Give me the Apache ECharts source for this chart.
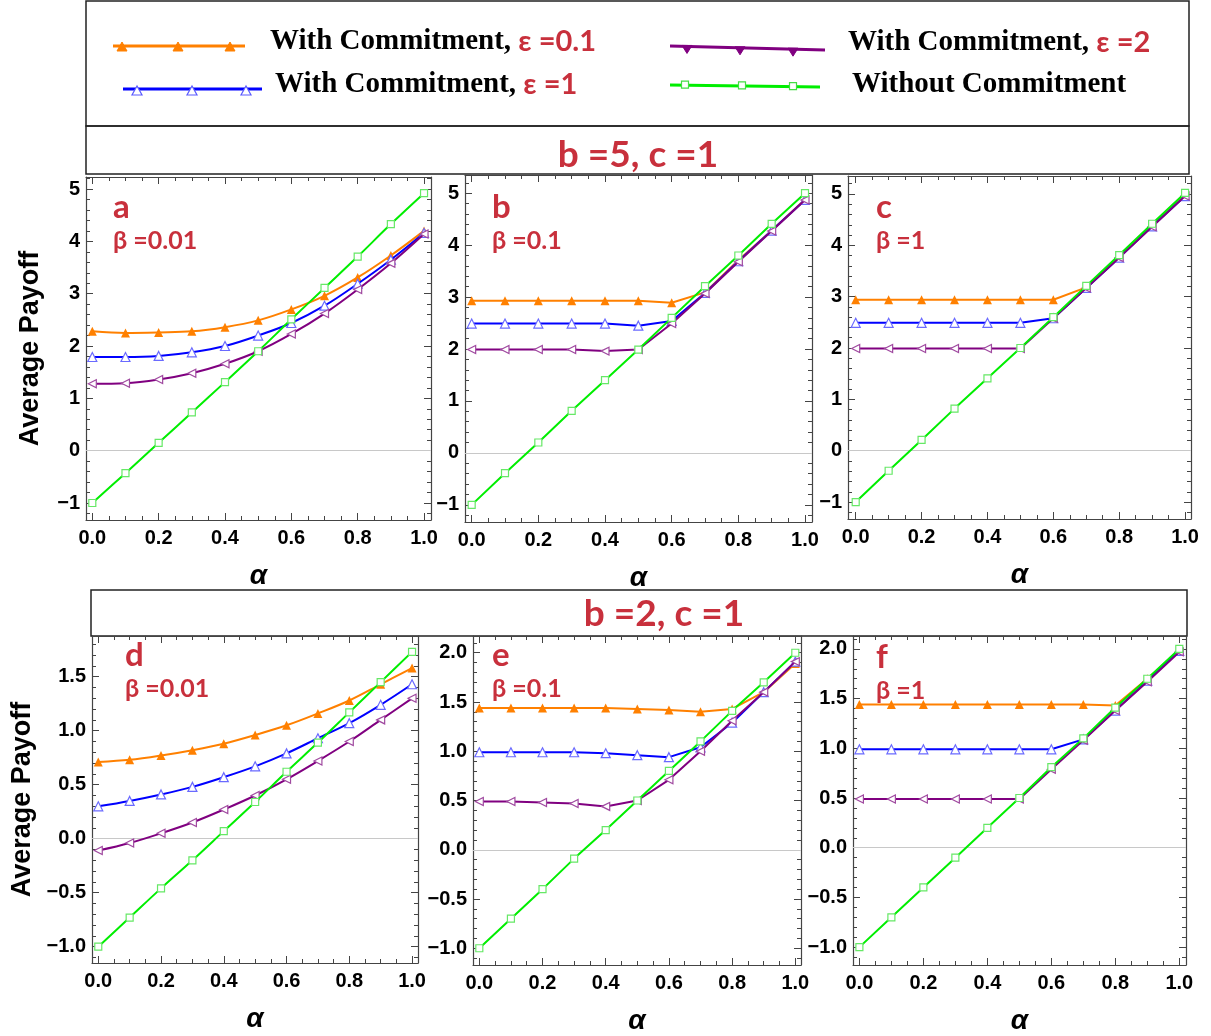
<!DOCTYPE html>
<html><head><meta charset="utf-8">
<script src="https://cdn.jsdelivr.net/npm/echarts@6/dist/echarts.min.js"></script>
<style>html,body{margin:0;padding:0;background:#fff}#c{width:1211px;height:1036px}</style>
</head><body><div id="c"></div>
<script>
// ---------------- data ----------------
const alphaValues = [0, 0.1, 0.2, 0.3, 0.4, 0.5, 0.6, 0.7, 0.8, 0.9, 1.0];

// b = 5, c = 1
const a_eps01 = [2.28, 2.25, 2.26, 2.28, 2.36, 2.49, 2.70, 2.96, 3.31, 3.73, 4.20];
const a_eps1  = [1.79, 1.79, 1.81, 1.88, 2.00, 2.20, 2.44, 2.77, 3.19, 3.65, 4.16];
const a_eps2  = [1.28, 1.29, 1.36, 1.48, 1.66, 1.90, 2.23, 2.62, 3.08, 3.58, 4.14];
const a_none  = [-1.00, -0.43, 0.15, 0.73, 1.31, 1.90, 2.51, 3.11, 3.71, 4.33, 4.92];

const b_eps01 = [2.93, 2.93, 2.93, 2.93, 2.93, 2.93, 2.89, 3.09, 3.71, 4.28, 4.88];
const b_eps1  = [2.49, 2.49, 2.49, 2.49, 2.49, 2.45, 2.54, 3.08, 3.69, 4.28, 4.87];
const b_eps2  = [1.99, 1.99, 1.99, 1.99, 1.96, 1.99, 2.49, 3.07, 3.68, 4.27, 4.87];
const b_none  = [-1.00, -0.39, 0.20, 0.81, 1.40, 1.99, 2.60, 3.21, 3.80, 4.41, 5.00];

const c_eps01 = [2.94, 2.94, 2.94, 2.94, 2.94, 2.94, 2.94, 3.18, 3.77, 4.38, 4.97];
const c_eps1  = [2.49, 2.49, 2.49, 2.49, 2.49, 2.49, 2.58, 3.17, 3.76, 4.37, 4.96];
const c_eps2  = [1.99, 1.99, 1.99, 1.99, 1.99, 1.99, 2.58, 3.17, 3.76, 4.36, 4.96];
const c_none  = [-1.00, -0.39, 0.21, 0.82, 1.41, 2.00, 2.60, 3.21, 3.81, 4.42, 5.02];

// b = 2, c = 1
const d_eps01 = [0.71, 0.73, 0.77, 0.82, 0.88, 0.96, 1.05, 1.16, 1.28, 1.43, 1.58];
const d_eps1  = [0.30, 0.35, 0.41, 0.48, 0.57, 0.67, 0.79, 0.93, 1.07, 1.24, 1.43];
const d_eps2  = [-0.11, -0.04, 0.05, 0.15, 0.27, 0.40, 0.55, 0.72, 0.90, 1.10, 1.30];
const d_none  = [-1.00, -0.73, -0.46, -0.20, 0.07, 0.34, 0.62, 0.89, 1.17, 1.45, 1.73];

const e_eps01 = [1.44, 1.44, 1.44, 1.44, 1.44, 1.43, 1.42, 1.40, 1.43, 1.60, 1.89];
const e_eps1  = [0.99, 0.99, 0.99, 0.99, 0.98, 0.96, 0.94, 1.04, 1.29, 1.60, 1.91];
const e_eps2  = [0.49, 0.49, 0.48, 0.47, 0.44, 0.50, 0.71, 1.00, 1.31, 1.60, 1.91];
const e_none  = [-1.00, -0.70, -0.40, -0.09, 0.20, 0.50, 0.80, 1.10, 1.41, 1.70, 2.00];

const f_eps01 = [1.44, 1.44, 1.44, 1.44, 1.44, 1.44, 1.44, 1.44, 1.43, 1.70, 1.98];
const f_eps1  = [0.99, 0.99, 0.99, 0.99, 0.99, 0.99, 0.99, 1.09, 1.38, 1.68, 1.98];
const f_eps2  = [0.49, 0.49, 0.49, 0.49, 0.49, 0.49, 0.79, 1.08, 1.38, 1.67, 1.97];
const f_none  = [-1.00, -0.70, -0.40, -0.10, 0.20, 0.50, 0.81, 1.10, 1.41, 1.70, 2.00];

// tick labels
const xTickValues = [0, 0.2, 0.4, 0.6, 0.8, 1.0];
const yTicksTop = [-1, 0, 1, 2, 3, 4, 5];
const yTicksD = [-1, -0.5, 0, 0.5, 1, 1.5];
const yTicksEF = [-1, -0.5, 0, 0.5, 1, 1.5, 2];

const seriesNames = ['With Commitment, ε =0.1', 'With Commitment, ε =1', 'With Commitment, ε =2', 'Without Commitment'];
const legendMain = ['With Commitment, ', 'With Commitment, ', 'With Commitment, ', 'Without Commitment'];
const legendEps = ['ε =0.1', 'ε =1', 'ε =2', ''];
const panelLetters = ['a', 'b', 'c', 'd', 'e', 'f'];
const betaLabels = ['β =0.01', 'β =0.1', 'β =1', 'β =0.01', 'β =0.1', 'β =1'];
const headerLabels = ['b =5, c =1', 'b =2, c =1'];
const yAxisTitle = 'Average Payoff';
const xAxisTitle = 'α';

// ---------------- layout / style ----------------
const RED = '#c8303c';
const FRAME = '#444';
const COLORS = ['#ff8000', '#0000ff', '#800080', '#00ee00'];

const panels = [
  {grid: {left: 86, top: 177, width: 345, height: 343}, x: [-0.019, 1.021], y: [-1.325, 5.23], yt: yTicksTop, ystep: 0.2, dec: 0, smooth: 0.35, data: [a_eps01, a_eps1, a_eps2, a_none], yName: true, yGap: 42, lab: [113, 207]},
  {grid: {left: 465, top: 175, width: 347, height: 347}, x: [-0.02, 1.021], y: [-1.33, 5.35], yt: yTicksTop, ystep: 0.2, dec: 0, smooth: false, data: [b_eps01, b_eps1, b_eps2, b_none], lab: [492, 207]},
  {grid: {left: 848, top: 176, width: 343, height: 343}, x: [-0.0234, 1.018], y: [-1.33, 5.35], yt: yTicksTop, ystep: 0.2, dec: 0, smooth: false, data: [c_eps01, c_eps1, c_eps2, c_none], lab: [876, 207]},
  {grid: {left: 92, top: 636, width: 326, height: 327}, x: [-0.02, 1.019], y: [-1.151, 1.877], yt: yTicksD, ystep: 0.1, dec: 1, smooth: 0.35, data: [d_eps01, d_eps1, d_eps2, d_none], yName: true, yGap: 56, lab: [125, 655]},
  {grid: {left: 473, top: 636, width: 328, height: 329}, x: [-0.02, 1.018], y: [-1.17, 2.17], yt: yTicksEF, ystep: 0.1, dec: 1, smooth: false, data: [e_eps01, e_eps1, e_eps2, e_none], lab: [492, 655]},
  {grid: {left: 853, top: 636, width: 333, height: 331}, x: [-0.02, 1.021], y: [-1.18, 2.13], yt: yTicksEF, ystep: 0.1, dec: 1, smooth: false, data: [f_eps01, f_eps1, f_eps2, f_none], lab: [876, 657]}
];

function stepValues(min, max, step) {
  const out = [];
  for (let k = Math.ceil(min / step - 1e-9); k * step <= max + 1e-9; k++) out.push(Math.round(k * step * 1000) / 1000);
  return out;
}
const tickFont = {fontFamily: 'Liberation Sans', fontWeight: 'bold', fontSize: 20, color: '#000'};
const frameLine = {show: true, onZero: false, lineStyle: {color: FRAME, width: 1.2}};
const noLine = {show: false, onZero: false};

const grids = [], xAxes = [], yAxes = [], series = [];
panels.forEach((p, g) => {
  grids.push(Object.assign({containLabel: false}, p.grid));
  const xMinor = stepValues(p.x[0], p.x[1], 0.05);
  const yMinor = stepValues(p.y[0], p.y[1], p.ystep);
  const baseX = {type: 'value', gridIndex: g, min: p.x[0], max: p.x[1], splitLine: {show: false}};
  const baseY = {type: 'value', gridIndex: g, min: p.y[0], max: p.y[1], splitLine: {show: false}};
  // main bottom x
  xAxes.push(Object.assign({}, baseX, {
    position: 'bottom',
    name: xAxisTitle, nameLocation: 'middle', nameGap: 42,
    nameTextStyle: {fontFamily: 'Liberation Sans', fontWeight: 'bold', fontStyle: 'italic', fontSize: 28, color: '#000'},
    axisLine: frameLine,
    axisTick: {show: true, inside: true, length: 7, customValues: xTickValues, lineStyle: {color: FRAME}},
    axisLabel: Object.assign({show: true, margin: 8, customValues: xTickValues, formatter: v => v.toFixed(1)}, tickFont)
  }));
  xAxes.push(Object.assign({}, baseX, {position: 'bottom', axisLine: noLine, axisLabel: {show: false},
    axisTick: {show: true, inside: true, length: 4, customValues: xMinor, lineStyle: {color: FRAME}}}));
  xAxes.push(Object.assign({}, baseX, {position: 'top', axisLine: frameLine, axisLabel: {show: false},
    axisTick: {show: true, inside: true, length: 7, customValues: xTickValues, lineStyle: {color: FRAME}}}));
  xAxes.push(Object.assign({}, baseX, {position: 'top', axisLine: noLine, axisLabel: {show: false},
    axisTick: {show: true, inside: true, length: 4, customValues: xMinor, lineStyle: {color: FRAME}}}));

  yAxes.push(Object.assign({}, baseY, {
    position: 'left',
    name: p.yName ? yAxisTitle : '', nameLocation: 'middle', nameGap: p.yGap || 50, nameRotate: 90,
    nameTextStyle: {fontFamily: 'Liberation Sans', fontWeight: 'bold', fontSize: 27, color: '#000'},
    axisLine: frameLine,
    axisTick: {show: true, inside: true, length: 7, customValues: p.yt, lineStyle: {color: FRAME}},
    axisLabel: Object.assign({show: true, margin: 6, customValues: p.yt, formatter: v => v.toFixed(p.dec).replace('-', '\u2212')}, tickFont)
  }));
  yAxes.push(Object.assign({}, baseY, {position: 'left', axisLine: noLine, axisLabel: {show: false},
    axisTick: {show: true, inside: true, length: 4, customValues: yMinor, lineStyle: {color: FRAME}}}));
  yAxes.push(Object.assign({}, baseY, {position: 'right', axisLine: frameLine, axisLabel: {show: false},
    axisTick: {show: true, inside: true, length: 7, customValues: p.yt, lineStyle: {color: FRAME}}}));
  yAxes.push(Object.assign({}, baseY, {position: 'right', axisLine: noLine, axisLabel: {show: false},
    axisTick: {show: true, inside: true, length: 4, customValues: yMinor, lineStyle: {color: FRAME}}}));

  const symbolDefs = [
    {symbol: 'triangle', symbolSize: 9, symbolRotate: 0, itemStyle: {color: COLORS[0]}},
    {symbol: 'triangle', symbolSize: 9, symbolRotate: 0, itemStyle: {color: '#fff', borderColor: '#6a6aff', borderWidth: 1.2}},
    {symbol: 'triangle', symbolSize: 8, symbolRotate: 90, itemStyle: {color: '#fff', borderColor: '#a04aa0', borderWidth: 1.2}},
    {symbol: 'rect', symbolSize: 7, symbolRotate: 0, itemStyle: {color: '#fff', borderColor: '#66e866', borderWidth: 1.2}}
  ];
  p.data.forEach((vals, si) => {
    const s = Object.assign({
      type: 'line', name: seriesNames[si], xAxisIndex: g * 4, yAxisIndex: g * 4,
      data: alphaValues.map((a, i) => [a, vals[i]]),
      smooth: p.smooth, showAllSymbol: true,
      lineStyle: {color: COLORS[si], width: 2},
      emphasis: {disabled: true}, z: 3 + si
    }, symbolDefs[si]);
    if (si === 0) {
      s.markLine = {silent: true, symbol: 'none', label: {show: false}, animation: false,
        lineStyle: {color: '#c8c8c8', width: 1, type: 'solid'}, emphasis: {disabled: true}, data: [{yAxis: 0}]};
    }
    series.push(s);
  });
});

// ---------------- graphic: header boxes, legend, panel labels ----------------
const graphic = [];
graphic.push({type: 'rect', shape: {x: 86, y: 1, width: 1103, height: 125}, style: {fill: 'none', stroke: '#222', lineWidth: 1.5}, silent: true});
graphic.push({type: 'rect', shape: {x: 86, y: 126, width: 1103, height: 48}, style: {fill: 'none', stroke: '#222', lineWidth: 1.5}, silent: true});
graphic.push({type: 'rect', shape: {x: 91, y: 590, width: 1096, height: 46}, style: {fill: 'none', stroke: '#222', lineWidth: 1.5}, silent: true});
const headerFont = 'bold 37px Lato';
graphic.push({type: 'text', x: 638, y: 155, style: {text: headerLabels[0], font: headerFont, fill: RED, textAlign: 'center', textVerticalAlign: 'middle'}, silent: true});
graphic.push({type: 'text', x: 664, y: 614, style: {text: headerLabels[1], font: headerFont, fill: RED, textAlign: 'center', textVerticalAlign: 'middle'}, silent: true});

// legend entries
const legendPos = [
  {x1: 113, y1: 46, x2: 245, y2: 46, mk: [122, 178, 230], tx: 270, ty: 42},
  {x1: 123, y1: 89, x2: 262, y2: 89, mk: [137, 192, 246], tx: 275, ty: 85},
  {x1: 670, y1: 46, x2: 825, y2: 50, mk: [687, 740, 793], tx: 848, ty: 43},
  {x1: 670, y1: 85, x2: 820, y2: 87, mk: [685, 742, 793], tx: 852, ty: 85}
];
legendPos.forEach((L, i) => {
  graphic.push({type: 'line', shape: {x1: L.x1, y1: L.y1, x2: L.x2, y2: L.y2}, style: {stroke: COLORS[i], lineWidth: 3}, silent: true});
  L.mk.forEach(mx => {
    const my = L.y1 + (L.y2 - L.y1) * (mx - L.x1) / (L.x2 - L.x1);
    let pts, st;
    if (i === 0) { pts = [[mx, my - 4], [mx - 5, my + 5], [mx + 5, my + 5]]; st = {fill: COLORS[0], stroke: COLORS[0]}; }
    else if (i === 1) { pts = [[mx, my - 3], [mx - 5, my + 6], [mx + 5, my + 6]]; st = {fill: '#fff', stroke: '#5a5aff', lineWidth: 1.2}; }
    else if (i === 2) { pts = [[mx - 5, my - 1], [mx + 5, my - 1], [mx, my + 7]]; st = {fill: COLORS[2], stroke: COLORS[2]}; }
    else { graphic.push({type: 'rect', shape: {x: mx - 3.5, y: my - 4, width: 7, height: 7}, style: {fill: '#fff', stroke: '#44dd44', lineWidth: 1.2}, silent: true}); return; }
    graphic.push({type: 'polygon', shape: {points: pts}, style: st, silent: true});
  });
  graphic.push({type: 'text', x: L.tx, y: L.ty, style: {
    text: legendMain[i] + (legendEps[i] ? '{r|' + legendEps[i] + '}' : ''),
    font: 'bold 29px "Liberation Serif"', fill: '#000', textVerticalAlign: 'middle',
    rich: {r: {fontFamily: 'Lato', fontWeight: 'bold', fontSize: 29, fill: RED, color: RED}}
  }, silent: true});
});

panels.forEach((p, g) => {
  graphic.push({type: 'text', x: p.lab[0], y: p.lab[1], style: {text: panelLetters[g], font: 'bold 33px Lato', fill: RED, textVerticalAlign: 'middle'}, silent: true});
  graphic.push({type: 'text', x: p.lab[0], y: p.lab[1] + 34, style: {text: betaLabels[g], font: 'bold 25px Lato', fill: RED, textVerticalAlign: 'middle'}, silent: true});
});

const chart = echarts.init(document.getElementById('c'), null, {renderer: 'canvas'});
chart.setOption({
  animation: false,
  backgroundColor: '#fff',
  grid: grids, xAxis: xAxes, yAxis: yAxes, series: series, graphic: graphic
});
</script></body></html>
